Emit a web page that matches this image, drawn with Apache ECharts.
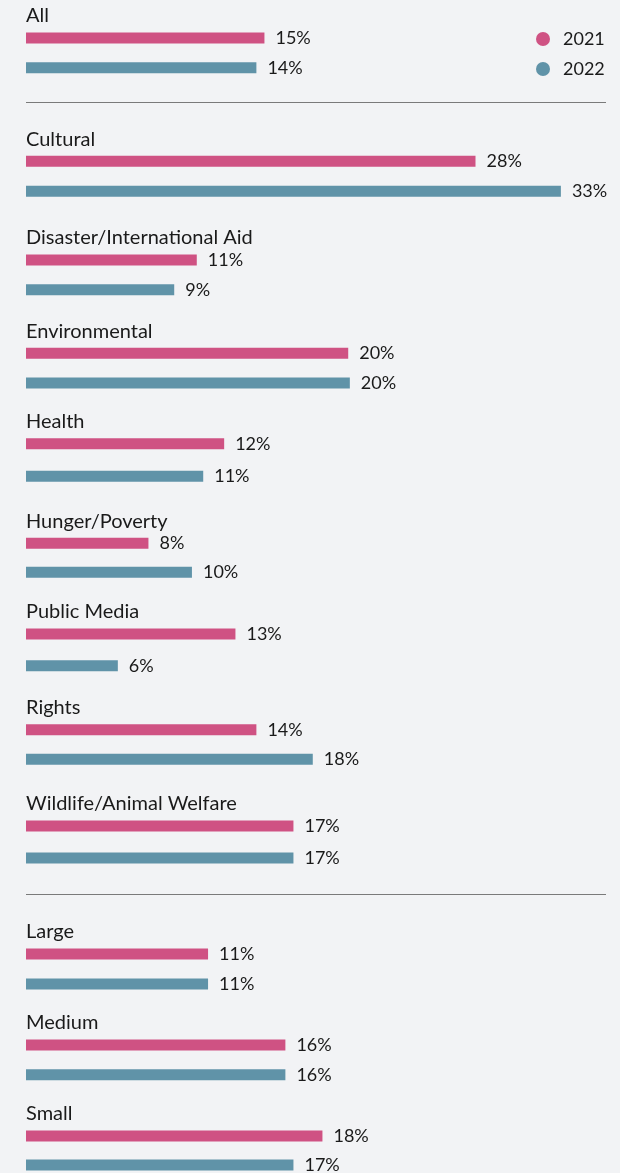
<!DOCTYPE html>
<html>
<head>
<meta charset="utf-8">
<script src="https://cdn.jsdelivr.net/npm/echarts@6/dist/echarts.min.js"></script>
<style>
html,body{margin:0;padding:0;background:#f2f3f5;}
#c{width:620px;height:1173px;}
</style>
</head>
<body>
<div id="c"></div>
<script>
// ---- data ----
const categories = ['All','Cultural','Disaster/International Aid','Environmental','Health','Hunger/Poverty','Public Media','Rights','Wildlife/Animal Welfare','Large','Medium','Small'];
const years = ['2021','2022'];
const values2021 = [14.8, 27.9, 10.6, 20.0, 12.3, 7.6, 13.0, 14.3, 16.6, 11.3, 16.1, 18.4];
const values2022 = [14.3, 33.2, 9.2, 20.1, 11.0, 10.3, 5.7, 17.8, 16.6, 11.3, 16.1, 16.6];

// ---- layout (pixel centres of the first and second bar of each group) ----
const firstCentre  = [38, 161.3, 260, 353.3, 443.7, 543.3, 634, 729.7, 826, 954, 1045, 1136];
const secondCentre = [67.7, 191.3, 289.7, 383, 476.3, 572.3, 665.7, 759.3, 858, 984, 1074.7, 1165];
const separators = [102.5, 894.5];

const colors = {'2021':'#cf5283','2022':'#6093a8'};
const FONT = 'Lato, "Noto Sans", sans-serif';
const BAR = 11;

const chart = echarts.init(document.getElementById('c'), null, {renderer:'canvas'});

const grids = [], xAxes = [], yAxes = [], series = [], titles = [];
categories.forEach((cat, i) => {
  const d = secondCentre[i] - firstCentre[i];
  const h = d + BAR + 2;
  const mid = (firstCentre[i] + secondCentre[i]) / 2;
  grids.push({left: 26, width: 580, top: mid - h/2, height: h, containLabel: false});
  xAxes.push({type:'value', gridIndex:i, min:0, max:36, show:false});
  yAxes.push({type:'category', gridIndex:i, data:[cat], inverse:true, show:false});
  [values2021, values2022].forEach((vals, k) => {
    series.push({
      name: years[k], type:'bar', xAxisIndex:i, yAxisIndex:i,
      data:[vals[i]], barWidth: BAR, barGap: ((d - BAR)/BAR*100) + '%',
      itemStyle:{color: colors[years[k]]},
      label:{show:true, position:'right', distance:11, color:'#1a1a1a',
        fontFamily:FONT, fontSize:18, formatter: p => Math.round(p.value) + '%'},
      silent:true, animation:false
    });
  });
  titles.push({text:cat, left:26, top:firstCentre[i] - 32, padding:0,
    textStyle:{fontFamily:FONT, fontSize:20, fontWeight:'normal', color:'#1a1a1a'}});
});

chart.setOption({
  backgroundColor:'#f2f3f5',
  animation:false,
  title: titles,
  legend:{data:years, orient:'vertical', left:531, top:25, itemWidth:14, itemHeight:14,
    itemGap:12, icon:'circle',
    textStyle:{fontFamily:FONT, fontSize:18, color:'#1a1a1a', padding:[0,0,0,8]}},
  grid: grids, xAxis: xAxes, yAxis: yAxes, series: series,
  graphic: separators.map(y => ({type:'line', shape:{x1:26, y1:y, x2:606, y2:y},
    style:{stroke:'#7a7a7a', lineWidth:1}, silent:true}))
});
</script>
</body>
</html>
